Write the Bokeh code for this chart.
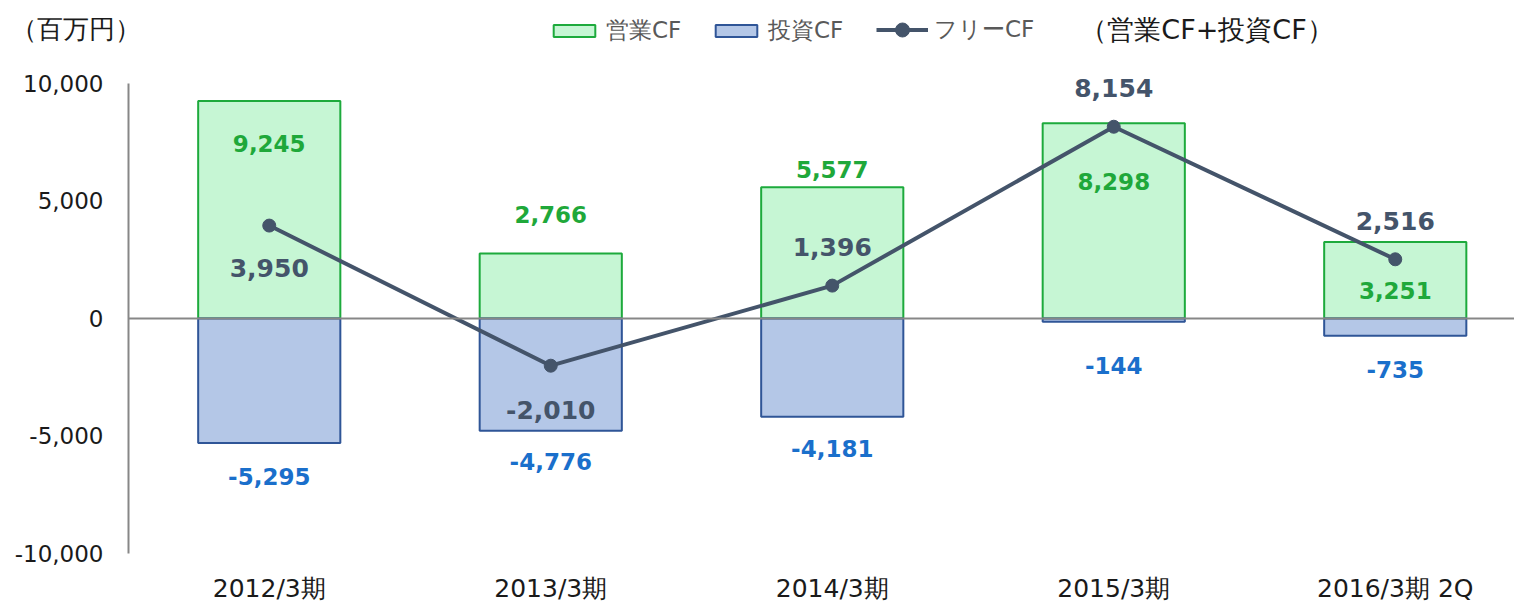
from bokeh.plotting import figure
from bokeh.models import (Range1d, FixedTicker, NumeralTickFormatter, Label,
                          Legend, LegendItem, ColumnDataSource, LinearAxis)
from bokeh.core.properties import value
from bokeh.embed import file_html
from bokeh.resources import INLINE

categories = ["2012/3期", "2013/3期", "2014/3期", "2015/3期", "2016/3期 2Q"]
operating_cf = [9245, 2766, 5577, 8298, 3251]
investing_cf = [-5295, -4776, -4181, -144, -735]
free_cf = [3950, -2010, 1396, 8154, 2516]
y_ticks = [-10000, -5000, 0, 5000, 10000]

# label offsets in screen pixels (positive = down)
op_off = [42, -39, -18, 58, 48]
inv_off = [34, 31, 32, 44, 34]
free_off = [42, 44, -39, -39, -38]

GREEN_FILL, GREEN_LINE, GREEN_TXT = "#C6F6D4", "#1DAA3C", "#1FA83A"
BLUE_FILL, BLUE_LINE, BLUE_TXT = "#B4C7E7", "#2F5597", "#1A6FCB"
SLATE = "#44546A"
AXIS_GRAY = "#878787"

X_START, X_END = -0.9547, 4.4236
Y_START, Y_END = -10679, 13524
xs = list(range(len(categories)))
src = ColumnDataSource(dict(
    x=xs, op=operating_cf, inv=investing_cf, free=free_cf,
    op_t=[f"{v:,}" for v in operating_cf],
    inv_t=[f"{v:,}" for v in investing_cf],
    free_t=[f"{v:,}" for v in free_cf],
    op_off=op_off, inv_off=inv_off, free_off=free_off,
))

p = figure(width=1514, height=605, output_backend="svg", toolbar_location=None,
           x_range=Range1d(X_START, X_END), y_range=Range1d(Y_START, Y_END),
           min_border_left=0, min_border_right=0, min_border_top=0, min_border_bottom=35)
p.outline_line_color = None
p.xgrid.grid_line_color = None
p.ygrid.grid_line_color = None
p.background_fill_color = "white"

# y axis, drawn at the left edge of the first category slot
ya = p.yaxis[0]
ya.fixed_location = -0.5
ya.ticker = FixedTicker(ticks=y_ticks)
ya.formatter = NumeralTickFormatter(format="0,0")
ya.bounds = (-10000, 10000)
ya.axis_line_color = AXIS_GRAY
ya.axis_line_width = 2
ya.major_tick_line_color = None
ya.minor_tick_line_color = None
ya.major_tick_in = 0
ya.major_tick_out = 0
ya.major_label_standoff = 25
ya.major_label_text_font = "DejaVu Sans"
ya.major_label_text_font_size = "23px"
ya.major_label_text_color = "#1a1a1a"

# category axis (labels at the bottom)
xa = p.xaxis[0]
xa.ticker = FixedTicker(ticks=xs)
xa.major_label_overrides = {i: c for i, c in zip(xs, categories)}
xa.axis_line_color = None
xa.major_tick_line_color = None
xa.minor_tick_line_color = None
xa.major_tick_in = 0
xa.major_tick_out = 0
xa.major_label_standoff = 4
xa.major_label_text_font = "DejaVu Sans"
xa.major_label_text_font_size = "25px"
xa.major_label_text_color = "#1a1a1a"

# zero line as a category axis line crossing at y=0
zero_axis = LinearAxis(fixed_location=0, bounds=(-0.5, X_END),
                       ticker=FixedTicker(ticks=[]), axis_line_color=AXIS_GRAY,
                       axis_line_width=2, major_tick_line_color=None,
                       minor_tick_line_color=None, major_label_text_font_size="0px")
p.add_layout(zero_axis, "below")

r_op = p.vbar(x="x", top="op", bottom=0, width=0.505, source=src,
              fill_color=GREEN_FILL, line_color=GREEN_LINE, line_width=2)
r_inv = p.vbar(x="x", top=0, bottom="inv", width=0.505, source=src,
               fill_color=BLUE_FILL, line_color=BLUE_LINE, line_width=2)

r_line = p.line(x="x", y="free", source=src, line_color=SLATE, line_width=4)
r_dot = p.scatter(x="x", y="free", source=src, size=13, fill_color=SLATE, line_color=SLATE)

lab_font = value("DejaVu Sans")
p.text(x="x", y="op", text="op_t", y_offset="op_off", source=src, text_align="center",
       text_baseline="middle", text_font=lab_font, text_font_size="23px",
       text_font_style="bold", text_color=GREEN_TXT)
p.text(x="x", y="inv", text="inv_t", y_offset="inv_off", source=src, text_align="center",
       text_baseline="middle", text_font=lab_font, text_font_size="23px",
       text_font_style="bold", text_color=BLUE_TXT)
p.text(x="x", y="free", text="free_t", y_offset="free_off", source=src, text_align="center",
       text_baseline="middle", text_font=lab_font, text_font_size="25px",
       text_font_style="bold", text_color=SLATE)

legend_style = dict(orientation="horizontal", glyph_width=52, label_standoff=6,
                    spacing=22, label_width=82, padding=0, margin=0,
                    border_line_color=None, background_fill_alpha=0,
                    label_text_font="DejaVu Sans", label_text_font_size="23px",
                    label_text_color="#595959")
legend_bars = Legend(items=[LegendItem(label="営業CF", renderers=[r_op]),
                            LegendItem(label="投資CF", renderers=[r_inv])],
                     location=(548, 523), glyph_height=15, **legend_style)
legend_line = Legend(items=[LegendItem(label="フリーCF", renderers=[r_line, r_dot])],
                     location=(876, 522), glyph_height=35, **legend_style)
p.add_layout(legend_bars)
p.add_layout(legend_line)

p.add_layout(Label(x=-0.5, y=12300, x_offset=-117, text="（百万円）",
                   text_font="DejaVu Sans", text_font_size="26px",
                   text_baseline="middle", text_color="#1a1a1a"))
p.add_layout(Label(x=2.924, y=12300, x_offset=-12, text="（営業CF+投資CF）",
                   text_font="DejaVu Sans", text_font_size="27px",
                   text_baseline="middle", text_color="#1a1a1a"))

open("out.html", "w").write(file_html(p, INLINE))
